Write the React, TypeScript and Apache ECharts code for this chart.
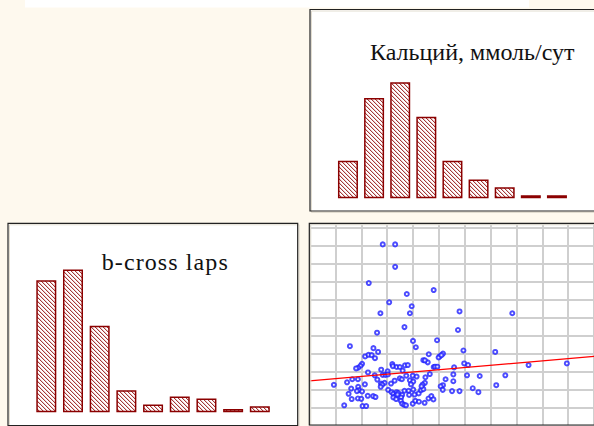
import { useEffect, useRef } from "react";
import * as echarts from "echarts";

// Histogram of daily calcium excretion (bin counts)
const calciumBins = ["1", "2", "3", "4", "5", "6", "7", "8", "9"];
const calciumCounts = [12, 32, 37, 26, 12, 6, 3.5, 1, 1];

// Histogram of b-cross laps (bin counts)
const crossLapsBins = ["1", "2", "3", "4", "5", "6", "7", "8", "9"];
const crossLapsCounts = [40, 43.3, 26.2, 6.7, 2.4, 4.8, 4.2, 1, 1.8];

// Scatter: [calcium, b-cross laps]
const scatterPoints: [number, number][] = [
  [2.83, 1.01], [3.31, 1.01], [3.31, 0.885], [2.29, 0.795], [3.76, 0.734],
  [4.8, 0.756], [3.08, 0.688], [3.95, 0.666], [2.74, 0.627], [3.88, 0.627],
  [5.8, 0.637], [7.84, 0.627],
  [3.67, 0.55], [5.74, 0.534], [2.61, 0.519], [1.56, 0.444], [2.47, 0.433],
  [2.65, 0.412], [4.0, 0.473], [4.93, 0.477], [4.11, 0.438], [5.95, 0.42],
  [7.18, 0.412], [2.15, 0.387], [2.28, 0.396], [2.4, 0.394], [2.53, 0.377],
  [4.61, 0.399], [5.16, 0.403], [5.03, 0.387], [4.99, 0.381], [5.1, 0.394],
  [4.4, 0.366], [4.57, 0.354], [4.46, 0.365], [2.03, 0.346], [1.97, 0.335],
  [1.88, 0.324], [1.8, 0.32], [3.2, 0.344], [3.22, 0.333], [3.37, 0.328],
  [3.49, 0.328], [3.69, 0.337], [3.8, 0.339], [4.8, 0.328], [4.85, 0.33],
  [4.94, 0.33], [5.59, 0.326], [5.98, 0.348], [6.13, 0.339], [8.47, 0.339],
  [9.95, 0.348], [2.77, 0.313], [3.02, 0.304], [2.26, 0.298], [2.52, 0.282],
  [2.83, 0.284], [2.94, 0.284], [3.03, 0.287], [3.6, 0.308], [3.74, 0.28],
  [3.99, 0.28], [4.14, 0.275], [4.65, 0.289], [4.48, 0.271], [5.56, 0.287],
  [6.09, 0.282], [6.58, 0.278], [7.57, 0.282], [1.65, 0.26], [1.87, 0.26],
  [0.94, 0.229], [1.45, 0.243], [2.62, 0.258], [2.76, 0.236], [2.9, 0.24],
  [3.15, 0.236], [3.29, 0.252], [3.49, 0.265], [3.57, 0.26], [3.88, 0.254],
  [4.01, 0.247], [3.92, 0.232], [4.46, 0.24], [4.37, 0.23], [5.26, 0.26],
  [5.56, 0.249], [5.16, 0.227], [5.07, 0.221], [7.22, 0.227], [2.14, 0.232],
  [2.81, 0.23], [1.61, 0.208], [1.88, 0.218], [1.91, 0.199], [2.03, 0.192],
  [1.83, 0.194], [1.51, 0.179], [2.75, 0.218], [3.04, 0.201], [3.17, 0.188],
  [3.24, 0.179], [3.37, 0.188], [3.43, 0.183], [3.67, 0.196], [3.83, 0.196],
  [4.01, 0.203], [3.85, 0.173], [4.06, 0.175], [4.22, 0.181], [4.31, 0.199],
  [4.4, 0.205], [5.15, 0.201], [6.31, 0.21], [6.53, 0.188], [5.8, 0.194],
  [5.51, 0.194], [4.33, 0.221], [3.58, 0.173], [1.63, 0.15], [2.25, 0.168],
  [2.46, 0.166], [2.55, 0.161], [3.32, 0.166], [3.24, 0.159], [3.35, 0.15],
  [3.54, 0.159], [3.53, 0.14], [3.58, 0.124], [3.66, 0.118], [3.73, 0.115],
  [3.99, 0.124], [4.09, 0.14], [4.23, 0.135], [4.45, 0.129], [4.6, 0.153],
  [4.71, 0.166], [4.79, 0.148], [1.34, 0.115], [2.05, 0.111], [2.19, 0.111],
  [1.87, 0.153], [2.0, 0.151], [3.4, 0.175],
];

// Linear fit endpoints drawn across the scatter panel
const trendLine: [number, number][] = [[0, 0.251], [11, 0.387]];

const calciumTitle = "Кальций, ммоль/сут";
const crossLapsTitle = "b-cross laps";

function makeHatch(): HTMLCanvasElement {
  const c = document.createElement("canvas");
  c.width = 4;
  c.height = 4;
  const ctx = c.getContext("2d")!;
  ctx.fillStyle = "#ffffff";
  ctx.fillRect(0, 0, 4, 4);
  for (let y = 0; y < 4; y++) {
    for (let x = 0; x < 4; x++) {
      const d = (x - y + 4) % 4;
      if (d === 0) {
        ctx.fillStyle = "#a33a3a";
        ctx.fillRect(x, y, 1, 1);
      } else if (d === 1) {
        ctx.fillStyle = "#eccccc";
        ctx.fillRect(x, y, 1, 1);
      }
    }
  }
  return c;
}

export default function App() {
  const ref = useRef<HTMLDivElement>(null);

  useEffect(() => {
    document.body.style.margin = "0";
    const chart = echarts.init(ref.current!, undefined, { renderer: "svg" });
    const hatch = makeHatch();
    const hatchFill: any = {
      image: hatch.toDataURL(),
      repeat: "repeat",
      imageWidth: 4,
      imageHeight: 4,
    };

    const hiddenCat = (data: string[], gridIndex: number) => ({
      type: "category",
      gridIndex,
      data,
      show: false,
    });
    const hiddenVal = (max: number, gridIndex: number) => ({
      type: "value",
      gridIndex,
      min: 0,
      max,
      show: false,
    });
    const gridLine = { show: true, lineStyle: { color: "#cfcfcf", width: 2 } };

    const panel = (x: number, y: number, w: number, h: number) => [
      {
        type: "rect",
        z: -10,
        shape: { x, y, width: w, height: h },
        style: { fill: "#ffffff" },
      },
      {
        type: "rect",
        z: 100,
        shape: { x: x + 1.5, y: y + 1.5, width: w, height: h },
        style: { fill: "none", stroke: "#e2ddd0", lineWidth: 1 },
      },
      {
        type: "rect",
        z: 101,
        shape: { x, y, width: w, height: h },
        style: { fill: "none", stroke: "#222222", lineWidth: 1.2 },
      },
    ];

    const titleText = {
      fontFamily: "Liberation Serif",
      fontSize: 24,
      fontWeight: "normal",
      color: "#111111",
    };

    chart.setOption({
      animation: false,
      backgroundColor: "#fef9ee",
      title: [
        { text: calciumTitle, left: 370, top: 40.3, padding: 0, textStyle: titleText, z: 102 },
        { text: crossLapsTitle, left: 101.7, top: 249.6, padding: 0, textStyle: titleText, z: 102 },
      ],
      grid: [
        { left: 334.9, top: 72.9, width: 235.1, height: 125.4 },
        { left: 32.96, top: 263.8, width: 240.2, height: 148.5 },
        { left: 309.56, top: 223.3, width: 287.2, height: 204.5 },
      ],
      xAxis: [
        hiddenCat(calciumBins, 0),
        hiddenCat(crossLapsBins, 1),
        {
          type: "value",
          gridIndex: 2,
          min: 0,
          max: 11,
          interval: 1,
          axisLine: { show: false },
          axisTick: { show: false },
          axisLabel: { show: false },
          splitLine: gridLine,
        },
      ],
      yAxis: [
        hiddenVal(40, 0),
        hiddenVal(45, 1),
        {
          type: "value",
          gridIndex: 2,
          min: 0,
          max: 1.1273,
          interval: 0.1,
          axisLine: { show: false },
          axisTick: { show: false },
          axisLabel: { show: false },
          splitLine: gridLine,
        },
      ],
      series: [
        {
          type: "bar",
          xAxisIndex: 0,
          yAxisIndex: 0,
          data: calciumCounts,
          barWidth: 20,
          itemStyle: { color: hatchFill, borderColor: "#8b0000", borderWidth: 1.5 },
        },
        {
          type: "bar",
          xAxisIndex: 1,
          yAxisIndex: 1,
          data: crossLapsCounts,
          barWidth: 20,
          itemStyle: { color: hatchFill, borderColor: "#8b0000", borderWidth: 1.5 },
        },
        {
          type: "scatter",
          xAxisIndex: 2,
          yAxisIndex: 2,
          data: scatterPoints,
          symbol: "emptyCircle",
          symbolSize: 4,
          itemStyle: { color: "#1f1fff", borderWidth: 0.9 },
          z: 3,
        },
        {
          type: "line",
          xAxisIndex: 2,
          yAxisIndex: 2,
          data: trendLine,
          symbol: "none",
          lineStyle: { color: "#ff0000", width: 1.3 },
          z: 4,
        },
      ],
      graphic: [
        {
          type: "rect",
          z: -10,
          shape: { x: 25, y: 0, width: 504, height: 7.5 },
          style: { fill: "#ffffff" },
        },
        ...panel(310, 9.5, 300, 201.5),
        ...panel(8, 223.3, 289.7, 202.4),
        ...panel(309.3, 223.3, 300, 201.7),
      ],
    } as any);

    // The "b-cross laps" caption is set a little looser than the Cyrillic one
    ref.current!.querySelectorAll("text").forEach((t) => {
      if (t.textContent === crossLapsTitle) {
        t.setAttribute("letter-spacing", "1.1");
      }
    });

    return () => chart.dispose();
  }, []);

  return (
    <div
      ref={ref}
      style={{ position: "fixed", left: 0, top: 0, width: 594, height: 426 }}
    />
  );
}
